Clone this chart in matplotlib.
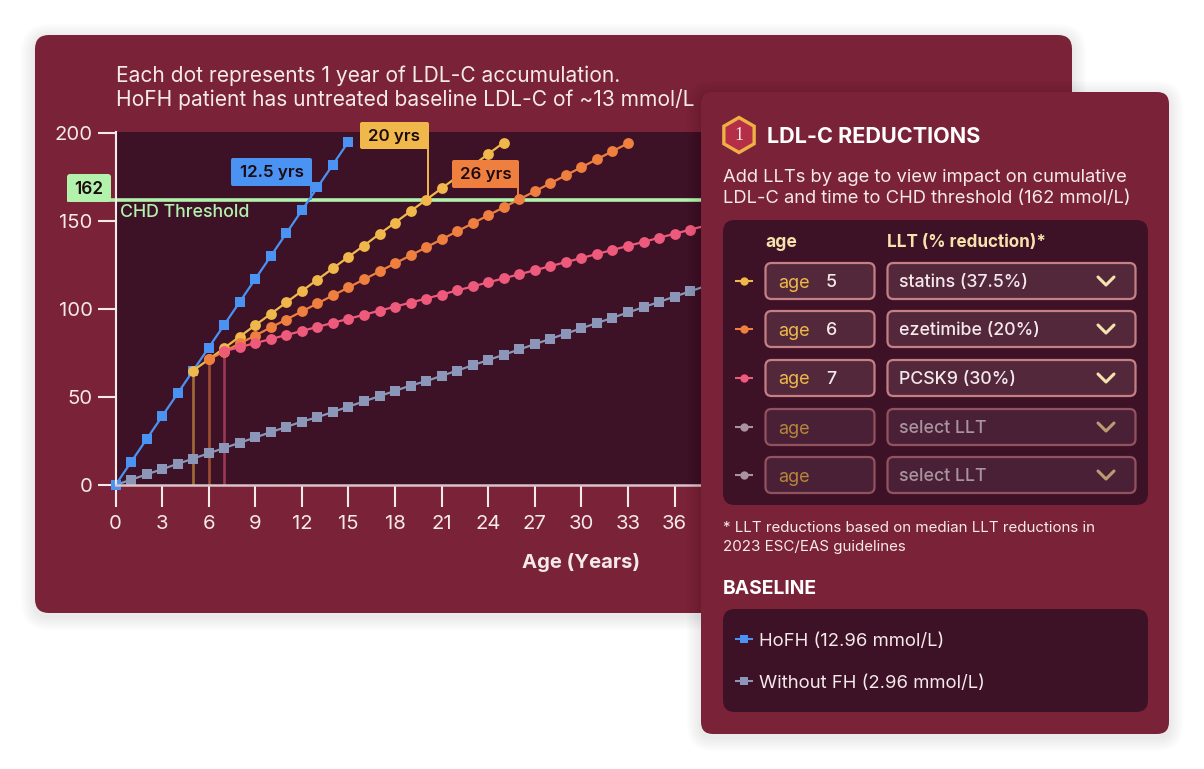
"""Cumulative LDL-C by age with LLT controls panel."""

import matplotlib

matplotlib.use("Agg")
import matplotlib.pyplot as plt
from matplotlib.patches import FancyBboxPatch, RegularPolygon

W, H = 1204, 769

# cumulative LDL-C (mmol/L-years) read per year of age
hofh_ages = list(range(0, 16))
hofh_vals = [0, 13, 26, 39, 52, 65, 78, 91, 104, 117, 130, 143, 156, 169, 182, 195]
nofh_ages = list(range(0, 39))
nofh_vals = [0, 3, 6, 9, 12, 15, 18, 21, 24, 27, 30, 33, 36, 38.5, 41.5, 44.5, 47.5, 50.5, 53.5,
             56.5, 59, 62, 65, 68, 71, 74, 77, 80, 83, 86, 89, 92, 95, 98, 101, 104, 107, 110, 113]
statin_ages = list(range(5, 26))
statin_vals = [65, 71.3, 77.8, 84.3, 90.8, 97.2, 103.7, 110.2, 116.6, 123.1, 129.6, 136, 142.6,
               149, 155.5, 162, 168.5, 175, 181.4, 188, 194.5]
ezet_ages = list(range(6, 34))
ezet_vals = [71.3, 75.8, 80.4, 84.9, 89.5, 94, 98.6, 103.1, 107.7, 112.2, 116.8, 121.3, 125.9,
             130.4, 135, 139.5, 144.1, 148.6, 153.2, 157.7, 162.3, 166.8, 171.4, 175.9, 180.5,
             185, 189.6, 194.1]
pcsk9_ages = list(range(7, 39))
pcsk9_vals = [76, 78.3, 80.6, 82.9, 85.2, 87.5, 89.8, 92.1, 94.4, 96.7, 99, 101.3, 103.6, 105.9,
              108.2, 110.5, 112.8, 115.1, 117.4, 119.7, 122, 124.3, 126.6, 128.9, 131.2, 133.5,
              135.8, 138.1, 140.4, 142.7, 145, 147.3]
drop_ages = [5, 6, 7]
drop_vals = [65, 71.3, 76]
threshold = 162
x_ticks = list(range(0, 37, 3))
y_ticks = [0, 50, 100, 150, 200]

llt_rows = [("5", "statins (37.5%)"), ("6", "ezetimibe (20%)"), ("7", "PCSK9 (30%)"),
            ("", "select LLT"), ("", "select LLT")]
baseline_rows = ["HoFH (12.96 mmol/L)", "Without FH (2.96 mmol/L)"]
callouts = ["12.5 yrs", "20 yrs", "26 yrs"]

WINE = "#7a2237"
DARK = "#3d1126"
BLUE = "#4a93f2"
GREY = "#8b96b8"
YELLOW = "#f0b84a"
ORANGE = "#ee7f3f"
PINK = "#ee5a7c"
GREEN = "#b2f2ac"
LIGHT = "#f5e9ea"
CREAM = "#f6e2aa"

plt.rcParams["font.family"] = ["Inter", "DejaVu Sans"]


def _layer(fig, zorder):
    # full-figure axes addressed in pixels, y downwards
    ax = fig.add_axes([0, 0, 1, 1], zorder=zorder)
    ax.set_xlim(0, W)
    ax.set_ylim(H, 0)
    ax.axis("off")
    ax.patch.set_alpha(0)
    return ax


def _rbox(ax, x0, y0, x1, y1, r, **kw):
    kw.setdefault("linewidth", 0)
    p = FancyBboxPatch((x0, y0), x1 - x0, y1 - y0, boxstyle=f"round,pad=0,rounding_size={r}", **kw)
    ax.add_patch(p)
    return p


def _shadow(ax, x0, y0, x1, y1, r):
    for grow in range(14, 0, -2):
        _rbox(ax, x0 - grow, y0 - grow + 3, x1 + grow, y1 + grow + 3, r + grow, facecolor="black", alpha=0.012)


def _chart(fig):
    ax = fig.add_axes([115.5 / W, (H - 485) / H, (710 - 115.5) / W, (485 - 132) / H], zorder=1)
    ax.set_facecolor(DARK)
    ax.set_xlim(0, 38.28)
    ax.set_ylim(0, 200.5)

    ax.plot([-3.1, 38.28], [threshold, threshold], color=GREEN, lw=2.6, zorder=1.5, clip_on=False,
            solid_capstyle="butt")
    for age, val, col in zip(drop_ages, drop_vals, (YELLOW, ORANGE, PINK)):
        ax.plot([age, age], [0, val], color=col, lw=1.9, alpha=0.55, zorder=1.6)

    ax.plot(nofh_ages, nofh_vals, "-s", color=GREY, lw=1.6, ms=7, mew=0, zorder=2, clip_on=False)
    ax.plot(hofh_ages, hofh_vals, "-s", color=BLUE, lw=1.6, ms=7, mew=0, zorder=2.1, clip_on=False)
    ax.plot(statin_ages, statin_vals, "-o", color=YELLOW, lw=1.6, ms=7.8, mew=0, zorder=2.2)
    ax.plot(ezet_ages, ezet_vals, "-o", color=ORANGE, lw=1.6, ms=7.8, mew=0, zorder=2.3)
    ax.plot(pcsk9_ages, pcsk9_vals, "-o", color=PINK, lw=1.6, ms=7.8, mew=0, zorder=2.4)

    for side in ("top", "right"):
        ax.spines[side].set_visible(False)
    ax.spines["left"].set_color(LIGHT)
    ax.spines["left"].set_linewidth(1.5)
    ax.spines["bottom"].set_color("#d9c3c6")
    ax.spines["bottom"].set_linewidth(1.8)
    ax.set_xticks(x_ticks)
    ax.set_yticks(y_ticks)
    ax.tick_params(axis="x", length=15.5, width=1.5, color=LIGHT, labelcolor=LIGHT, labelsize=14.6, pad=6)
    ax.tick_params(axis="y", length=13, width=1.5, color=LIGHT, labelcolor=LIGHT, labelsize=14.6, pad=3.5)
    return ax


def _callouts(ov):
    specs = [(231, 158, 312, 186, BLUE), (360, 122, 429, 149, YELLOW), (452, 160, 519, 188, ORANGE)]
    for label, (x0, y0, x1, y1, col) in zip(callouts, specs):
        ov.plot([x1 - 0.7, x1 - 0.7], [y1 - 2, 200], color=col, lw=1.4, solid_capstyle="butt")
        _rbox(ov, x0, y0, x1, y1, 2, facecolor=col)
        ov.text((x0 + x1) / 2, (y0 + y1) / 2 + 1, label, ha="center", va="center", fontsize=12.2,
                fontweight="semibold", color="#1c0a10")
    _rbox(ov, 67, 174, 111, 202, 3, facecolor=GREEN)
    ov.text(89, 190, str(threshold), ha="center", va="center", fontsize=12.4, fontweight="semibold",
            color="#1c0a10")
    ov.text(120, 212.5, "CHD Threshold", ha="left", va="center", fontsize=12.8, fontweight="medium", color=GREEN)


def _chevron(ax, x, y, color):
    ax.plot([x - 8, x, x + 8], [y - 4, y + 4, y - 4], color=color, lw=2.2, solid_capstyle="round",
            solid_joinstyle="round")


def _legend_icon(ax, y, color, marker, ms=5.2):
    ax.plot([735, 753], [y, y], color=color, lw=1.5, solid_capstyle="butt")
    ax.plot([744], [y], marker, color=color, ms=ms, mew=0)


def _panel(ax):
    _shadow(ax, 701, 92, 1169, 734, 12)
    _rbox(ax, 701, 92, 1169, 734, 12, facecolor=WINE)

    ax.add_patch(RegularPolygon((739, 135), 6, radius=17.5, facecolor="#b52e47", edgecolor="#eeb144", linewidth=2.4))
    ax.text(739, 136, "1", ha="center", va="center", fontsize=13, color=LIGHT, family="Liberation Serif")
    ax.text(767, 137, "LDL-C REDUCTIONS", ha="left", va="center", fontsize=15.6, fontweight="bold", color="white")
    ax.text(723, 177.5, "Add LLTs by age to view impact on cumulative", va="center", fontsize=13.25, color=LIGHT)
    ax.text(723, 198.5, "LDL-C and time to CHD threshold (162 mmol/L)", va="center", fontsize=13.25, color=LIGHT)

    _rbox(ax, 723, 220, 1148, 505, 12, facecolor=DARK)
    ax.text(765, 242.5, "age", va="center", fontsize=12.6, fontweight="bold", color=CREAM)
    ax.text(887, 242.5, "LLT (% reduction)*", va="center", fontsize=12.3, fontweight="bold", color=CREAM)

    row_y = [281, 329, 378, 427, 475]
    icon_cols = [YELLOW, ORANGE, PINK, "#a8949e", "#a8949e"]
    for y, (age, name), col in zip(row_y, llt_rows, icon_cols):
        on = bool(age)
        fill = "#53283b" if on else "#4a2036"
        edge = "#c77f86" if on else "#93525f"
        _legend_icon(ax, y, col, "o", ms=6)
        _rbox(ax, 765.5, y - 18, 874.5, y + 18, 6, facecolor=fill, edgecolor=edge, linewidth=1.6)
        _rbox(ax, 887.5, y - 18, 1135.5, y + 18, 6, facecolor=fill, edgecolor=edge, linewidth=1.6)
        ax.text(778, y + 2, "age", va="center", fontsize=13, color=YELLOW if on else "#b6853c")
        if on:
            ax.text(826, y + 1.5, age, va="center", fontsize=12.8, fontweight="medium", color=LIGHT)
        ax.text(899, y + 1.5, name, va="center", fontsize=12.8, fontweight="medium", color=LIGHT if on else "#a8949e")
        _chevron(ax, 1106, y, CREAM if on else "#b89c74")

    ax.text(723, 528, "* LLT reductions based on median LLT reductions in", va="center", fontsize=10.9, color=LIGHT)
    ax.text(723, 546.5, "2023 ESC/EAS guidelines", va="center", fontsize=10.9, color=LIGHT)
    ax.text(723, 589, "BASELINE", va="center", fontsize=13.9, fontweight="bold", color="white")

    _rbox(ax, 723, 609, 1148, 712, 12, facecolor=DARK)
    _legend_icon(ax, 639, BLUE, "s", ms=6)
    _legend_icon(ax, 681, GREY, "s", ms=6)
    ax.text(759, 641, baseline_rows[0], va="center", fontsize=13.3, color=LIGHT)
    ax.text(759, 683, baseline_rows[1], va="center", fontsize=13.3, color=LIGHT)


def main():
    fig = plt.figure(figsize=(W / 100, H / 100), dpi=100, facecolor="white")

    bg = _layer(fig, 0)
    _shadow(bg, 35, 35, 1072, 613, 14)
    _rbox(bg, 35, 35, 1072, 613, 14, facecolor=WINE)
    bg.text(116, 76, "Each dot represents 1 year of LDL-C accumulation.", va="center", fontsize=15.1, color=LIGHT)
    bg.text(116, 99, "HoFH patient has untreated baseline LDL-C of ~13 mmol/L", va="center", fontsize=15.1, color=LIGHT)
    bg.text(581, 562, "Age (Years)", ha="center", va="center", fontsize=14.6, fontweight="bold", color=LIGHT)

    _chart(fig)
    _callouts(_layer(fig, 2))
    _panel(_layer(fig, 3))

    fig.savefig("out.png", dpi=100)
    plt.close(fig)


if __name__ == "__main__":
    main()
